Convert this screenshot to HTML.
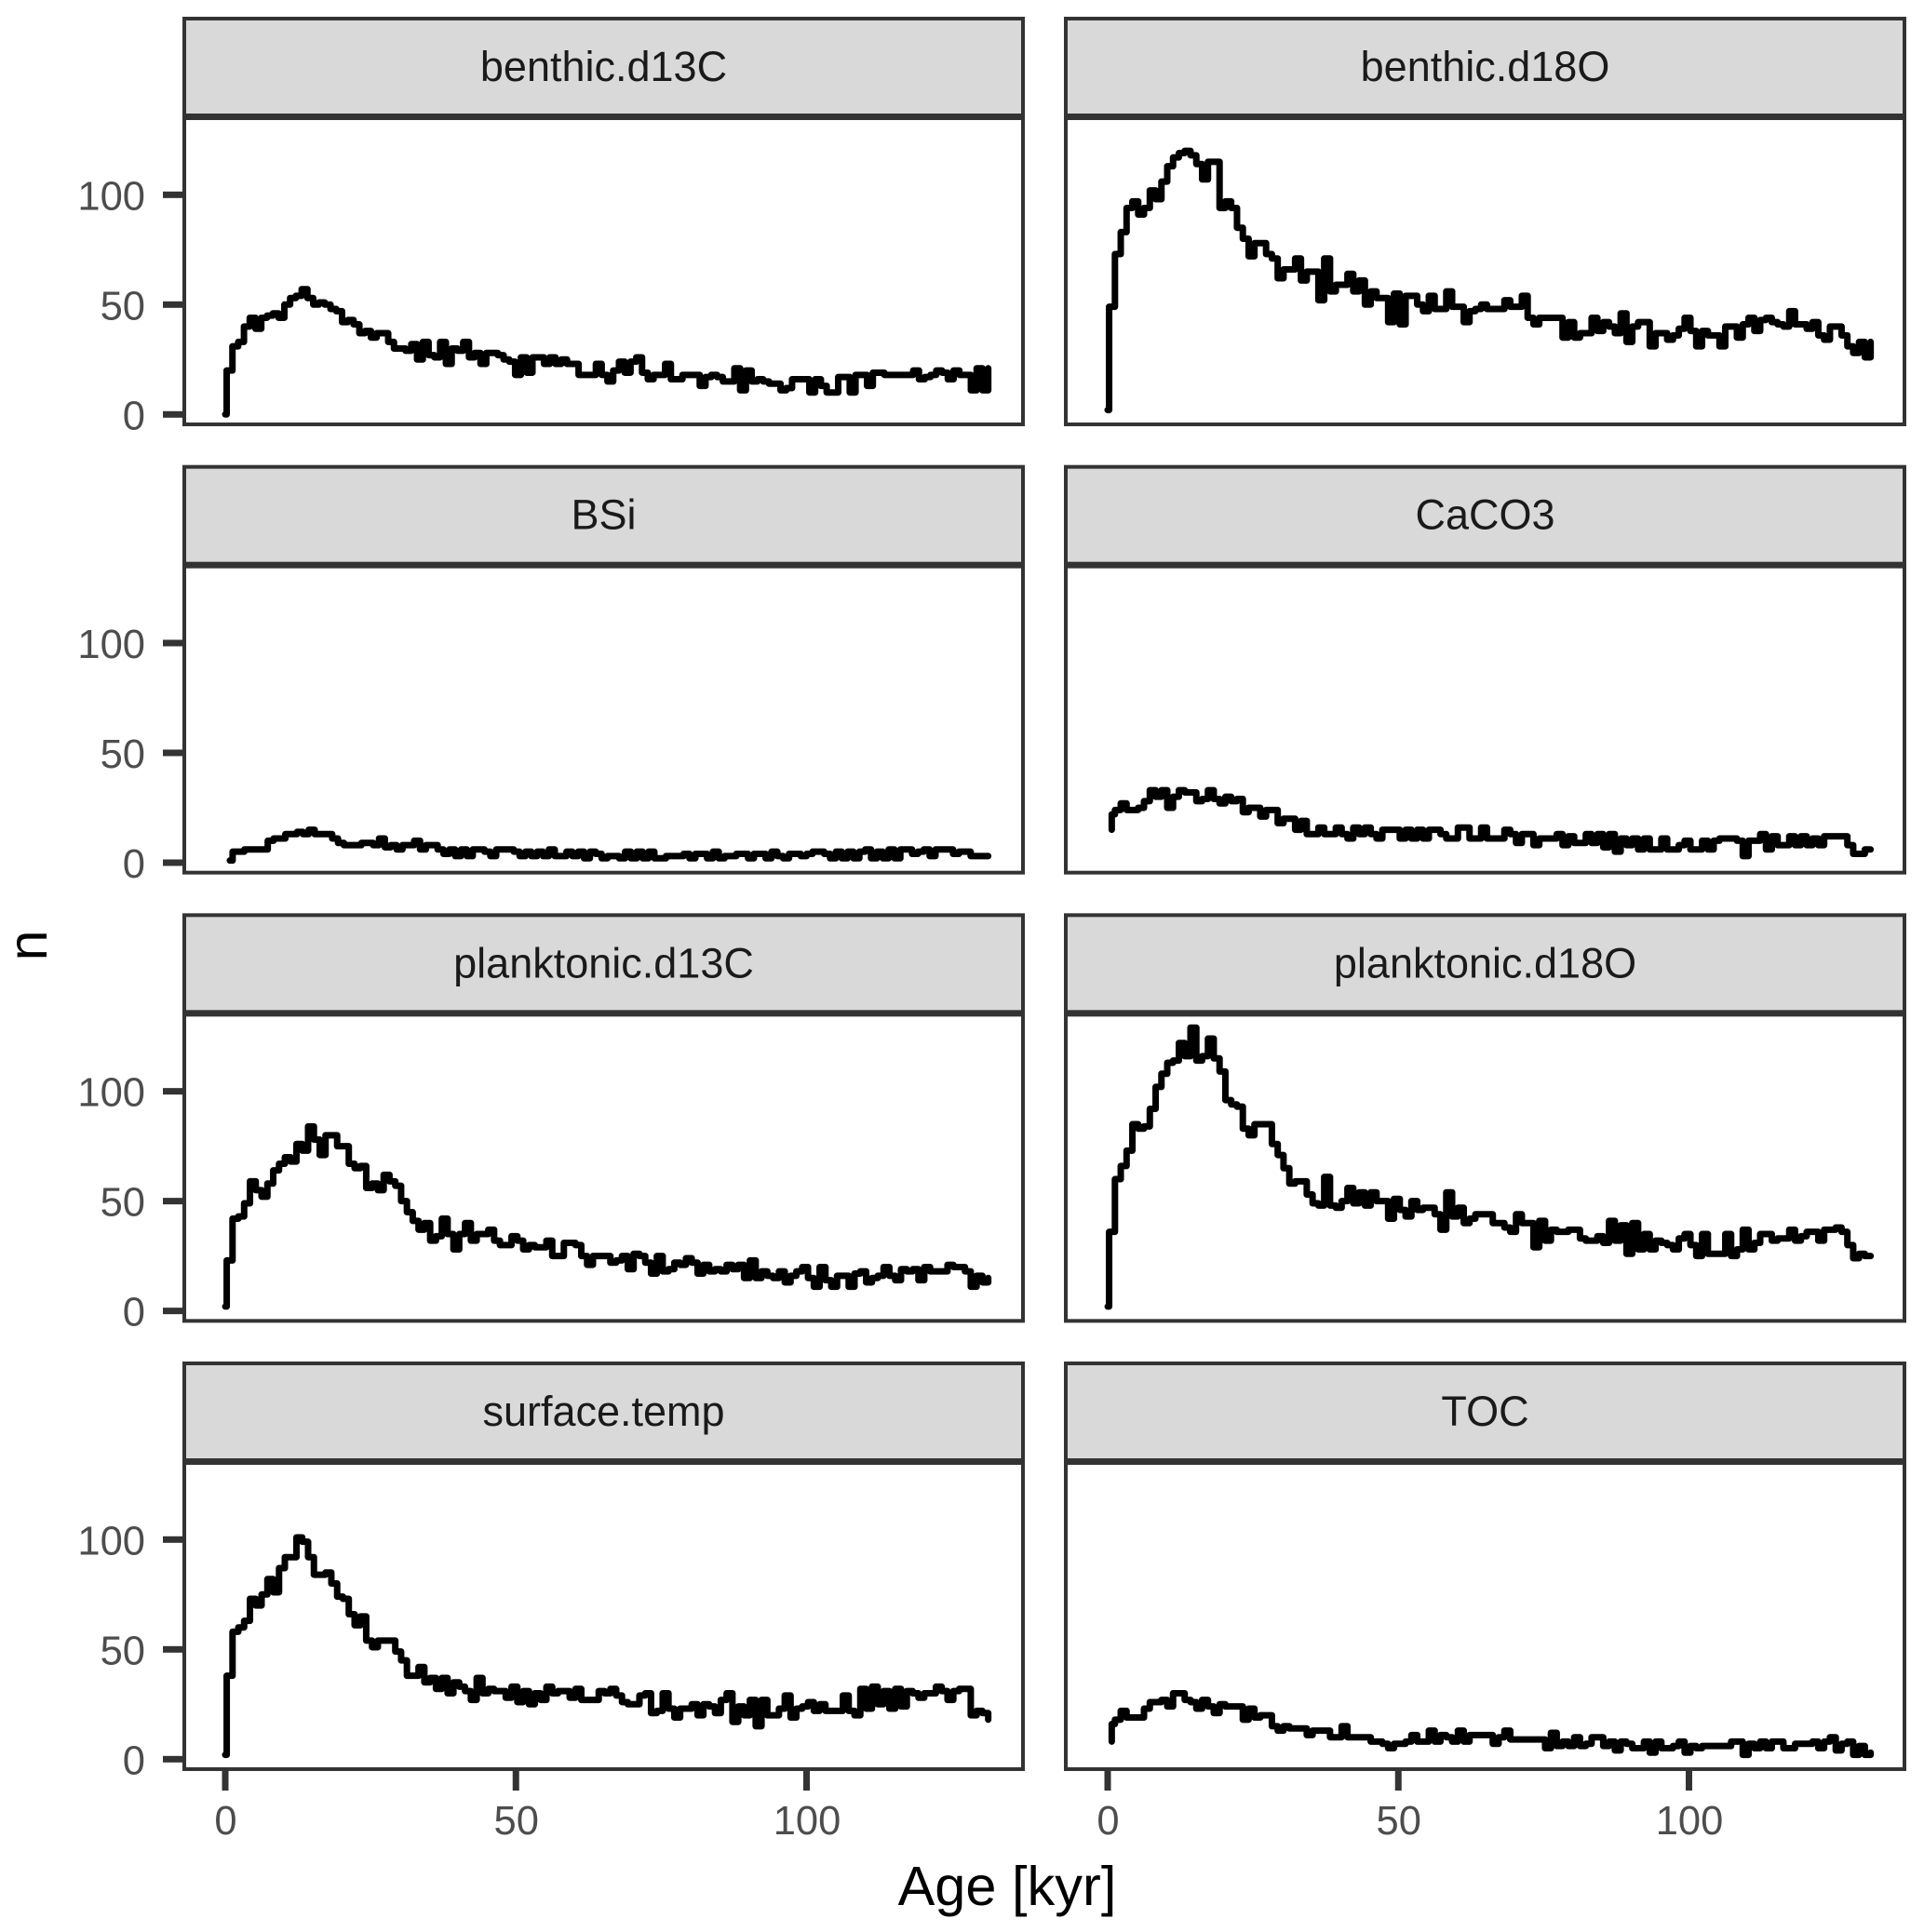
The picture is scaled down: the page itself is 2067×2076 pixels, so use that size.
<!DOCTYPE html>
<html lang="en">
<head>
<meta charset="utf-8">
<title>Faceted age counts</title>
<style>
html,body{margin:0;padding:0;background:#fff;}
svg{display:block;font-family:"Liberation Sans",Arial,sans-serif;}
</style>
</head>
<body>
<svg id="chart" xmlns="http://www.w3.org/2000/svg" width="2067" height="2076" viewBox="0 0 2067 2076">
<rect x="0" y="0" width="2067" height="2076" fill="#ffffff"/>
<text x="1082" y="2047" font-size="59.5" text-anchor="middle" fill="#000">Age [kyr]</text>
<text transform="translate(50,1016) rotate(-90)" font-size="59" text-anchor="middle" fill="#000">n</text>
</svg>
<script>
const panelNames = ["benthic.d13C","benthic.d18O","BSi","CaCO3","planktonic.d13C","planktonic.d18O","surface.temp","TOC"];
const xTickValues = [0,50,100];
const yTickValues = [0,50,100];
const benthicD13C = [0,20,31,33,40,44,39,44,45,46,44,50,53,54,57,53,50,51,50,48,47,42,43,41,37,38,35,37,37,33,30,30,29,32,25,33,27,26,33,23,30,29,33,26,28,23,28,28,27,25,24,18,26,19,26,26,23,26,23,25,23,23,18,18,18,23,18,15,20,24,19,24,26,19,16,18,18,23,16,16,18,18,18,13,17,18,17,15,15,21,11,20,15,16,15,14,14,11,12,16,16,16,10,16,13,10,10,17,17,10,18,18,13,19,19,18,18,18,18,18,20,16,17,18,20,19,16,20,18,18,11,21,11,21];
const benthicD18O = [2,49,73,83,94,97,91,94,102,98,106,113,117,119,120,118,114,107,115,115,94,97,94,85,80,72,78,78,73,71,62,66,66,71,61,65,65,52,71,56,59,59,64,56,61,50,56,53,53,42,55,41,54,54,50,47,54,48,48,56,49,49,42,47,48,50,48,48,48,52,49,49,54,44,41,44,44,44,44,35,42,35,37,37,44,38,42,40,37,46,33,40,42,42,31,37,37,34,36,39,44,38,31,38,36,36,31,40,40,35,41,44,38,43,44,42,41,40,47,41,41,39,42,36,34,40,40,36,31,28,33,26,33];
const bsiCounts = [1,1,5,5,6,6,6,6,10,11,11,13,13,14,13,15,13,13,13,11,9,8,8,8,9,9,8,11,7,8,6,8,8,10,6,8,8,6,4,6,3,6,3,6,6,5,3,6,6,6,5,3,5,3,5,3,6,3,3,5,3,5,2,5,4,2,3,3,2,5,2,5,2,5,2,2,3,3,3,4,2,4,4,2,5,2,3,3,4,4,2,4,4,2,5,3,2,4,4,3,4,5,5,4,2,5,2,5,2,5,6,2,5,2,6,2,6,6,4,5,6,3,6,6,6,4,5,5,3,3,3,3];
const caco3Counts = [15,22,24,27,24,24,25,28,33,30,33,25,30,33,32,32,28,29,33,29,27,30,28,29,23,25,25,21,24,24,18,20,20,15,19,13,13,16,13,13,16,13,11,16,13,16,13,11,15,15,15,11,15,11,15,11,15,15,13,11,11,16,16,11,11,16,11,11,11,15,13,9,13,13,8,11,11,11,13,8,12,9,9,13,9,13,7,13,5,11,8,11,6,11,6,6,11,6,6,8,10,6,6,10,6,10,11,11,11,10,3,10,10,13,6,12,8,8,12,8,12,8,11,8,12,12,12,12,8,4,4,6,6];
const planktonicD13C = [2,23,42,43,49,59,55,52,58,64,67,70,68,76,73,84,78,71,80,80,75,75,67,65,66,56,58,55,62,59,57,50,45,41,37,40,32,34,42,35,28,35,40,32,35,35,37,32,30,30,34,32,28,30,29,29,32,25,25,31,31,30,25,21,25,25,25,22,23,25,19,26,25,22,17,25,18,19,22,21,24,22,17,21,18,19,18,21,19,21,15,23,15,18,16,15,18,13,16,18,20,15,11,20,14,11,16,16,11,17,18,13,15,16,20,16,14,19,18,19,14,20,18,18,18,21,20,20,18,11,16,13,15];
const planktonicD18O = [2,36,60,66,73,85,83,84,92,102,108,113,114,122,116,129,114,116,124,115,109,96,94,93,83,80,85,85,85,76,71,65,58,59,59,53,49,48,61,48,47,50,56,49,54,48,54,50,50,42,51,46,43,50,46,47,47,44,37,54,43,47,40,42,44,44,44,40,40,38,36,44,40,40,29,41,32,37,36,36,37,37,33,32,32,34,31,41,32,39,26,40,28,35,28,32,31,30,28,33,35,30,25,35,26,26,26,35,25,28,37,28,31,35,35,32,33,33,37,32,34,36,36,32,37,37,38,36,30,24,26,25,25];
const surfaceTemp = [2,38,58,60,63,73,70,75,82,76,87,92,92,101,99,92,84,84,85,80,74,73,66,61,65,54,51,54,54,54,49,45,38,38,42,35,37,32,37,30,35,33,31,27,37,30,32,31,31,28,33,26,31,25,30,27,33,30,31,31,28,32,27,27,27,31,30,32,29,26,25,25,29,30,21,22,30,23,19,23,23,25,20,25,24,21,27,30,17,24,20,27,15,27,20,20,23,29,19,23,24,26,22,25,22,22,22,29,22,20,32,23,33,25,31,23,32,24,31,30,28,30,30,33,31,27,31,32,32,20,22,21,18];
const tocCounts = [8,16,18,22,19,19,19,23,26,26,27,24,30,30,27,26,23,27,24,21,25,24,24,24,18,23,19,20,20,15,13,15,14,14,14,11,13,13,13,10,10,15,10,10,10,10,8,8,7,5,7,7,8,11,8,8,13,8,11,10,8,13,8,11,11,11,11,7,10,13,9,9,9,9,9,9,5,12,6,8,6,10,6,7,10,10,6,8,4,8,7,5,5,8,3,8,5,5,6,8,3,6,5,6,6,6,6,6,8,8,2,7,5,8,5,8,8,5,5,7,7,7,8,5,8,10,4,7,8,2,6,2,3];
const seriesValues = [benthicD13C,benthicD18O,bsiCounts,caco3Counts,planktonicD13C,planktonicD18O,surfaceTemp,tocCounts];
const seriesFirstAge = [0,0,0.8,0.7,0,0,0,0.7];
const ageOffset = -0.75;
const ageSpan = 132.0;

const svgNS = "http://www.w3.org/2000/svg";
const chart = document.getElementById("chart");
const colLeft = [198,1145];
const colZero = [242,1190];
const panelWidth = 901;
const rowTop = 20;
const rowStep = 481.67;
const kyrPx = 6.245;
const countPx = 2.36;

function xScale(col, age){ return colZero[col] + age * kyrPx; }
function yScale(row, value){ return rowTop + rowStep * row + 425.3 - value * countPx; }
function make(tag, attrs, text){
  const el = document.createElementNS(svgNS, tag);
  for (const k in attrs) el.setAttribute(k, attrs[k]);
  if (text !== undefined) el.textContent = text;
  chart.appendChild(el);
  return el;
}

panelNames.forEach(function(name, idx){
  const col = idx % 2;
  const row = Math.floor(idx / 2);
  const top = rowTop + rowStep * row;
  const left = colLeft[col];
  const slug = name.toLowerCase().replace(/\./g, "-");

  const strip = make("rect", {x:left, y:top, width:panelWidth, height:104, fill:"#D9D9D9", stroke:"#333333", "stroke-width":4});
  
  

  const label = make("text", {x:left + panelWidth / 2, y:top + 67, "font-size":45, "text-anchor":"middle", fill:"#1A1A1A"}, name);
  
  

  const panel = make("rect", {x:left, y:top + 107, width:panelWidth, height:329, fill:"#ffffff", stroke:"#333333", "stroke-width":4});
  
  

  const values = seriesValues[idx];
  const first = seriesFirstAge[idx];
  const n = values.length;
  let d = "";
  values.forEach(function(v, i){
    const age = i === 0 ? first : Math.max(first, ageOffset + ageSpan * i / (n - 1));
    const x = xScale(col, age).toFixed(2);
    const y = yScale(row, v).toFixed(2);
    d += (i === 0 ? "M" : "H" + x + "V") + (i === 0 ? x + " " + y : y);
  });
  const line = make("path", {d:d, fill:"none", stroke:"#000000", "stroke-width":7, "stroke-linejoin":"round", "stroke-linecap":"round"});
  
  

  if (col === 0) {
    yTickValues.forEach(function(t){
      const y = yScale(row, t);
      const tick = make("rect", {x:175, y:y - 3.5, width:21, height:7, fill:"#333333"});
      
      
      const tl = make("text", {x:156, y:y + 16, "font-size":43.5, "text-anchor":"end", fill:"#4D4D4D"}, String(t));
      
      
    });
  }
  if (row === 3) {
    xTickValues.forEach(function(t){
      const x = xScale(col, t);
      const tick = make("rect", {x:x - 3.5, y:top + 438, width:7, height:21, fill:"#333333"});
      
      
      const tl = make("text", {x:x + 0.5, y:top + 506, "font-size":43.5, "text-anchor":"middle", fill:"#4D4D4D"}, String(t));
      
      
    });
  }
});
</script>
</body>
</html>
